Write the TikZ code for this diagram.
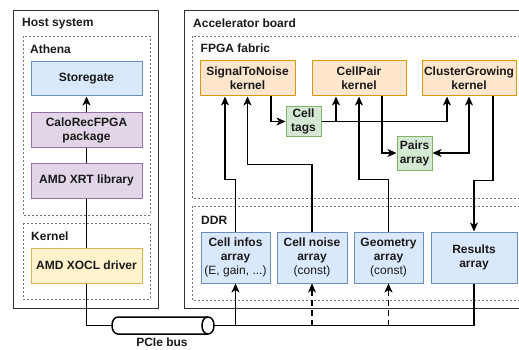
\documentclass[tikz,border=0pt]{standalone}
\usepackage{fontspec}
\setmainfont{Liberation Sans}
\usetikzlibrary{arrows.meta,calc}

\definecolor{blueF}{HTML}{DAE8FC}\definecolor{blueS}{HTML}{6C8EBF}
\definecolor{purpF}{HTML}{E1D5E7}\definecolor{purpS}{HTML}{9673A6}
\definecolor{yelF}{HTML}{FFF2CC}\definecolor{yelS}{HTML}{D6B656}
\definecolor{orF}{HTML}{FFE6CC}\definecolor{orS}{HTML}{D79B00}
\definecolor{grF}{HTML}{D5E8D4}\definecolor{grS}{HTML}{82B366}
\definecolor{ink}{HTML}{1A1A1A}

\tikzset{
  txt/.style={font=\fontsize{12}{14}\selectfont\bfseries, text=ink, align=center},
  box/.style={txt, draw, line width=1pt, inner sep=0pt},
  bluebox/.style={box, fill=blueF, draw=blueS},
  purpbox/.style={box, fill=purpF, draw=purpS},
  yelbox/.style={box, fill=yelF, draw=yelS},
  kernbox/.style={box, fill=orF, draw=orS, minimum width=94pt, minimum height=35pt},
  tagbox/.style={box, fill=grF, draw=grS, minimum width=35pt},
  ddrbox/.style={bluebox, minimum height=51pt},
  outer/.style={draw=black!80, line width=0.9pt},
  zone/.style={draw=black!55, line width=0.9pt, dash pattern=on 2pt off 2pt},
  grouplabel/.style={txt, anchor=west, inner sep=0pt},
  wire/.style={draw=black, line width=1.5pt},
  tip/.style={Stealth[length=9pt,width=8pt,inset=2.5pt]},
  arr/.style={wire, -{Stealth[length=9pt,width=8pt,inset=2.5pt]}},
  biarr/.style={wire, {Stealth[length=9pt,width=8pt,inset=2.5pt]}-{Stealth[length=9pt,width=8pt,inset=2.5pt]}},
  dasharr/.style={arr, dash pattern=on 6pt off 4pt},
}

\begin{document}
\begin{tikzpicture}[x=1pt,y=-1pt]
\useasboundingbox (0,0) rectangle (519,350);
\clip (0,0) rectangle (519,350);

% Host side frames
\draw[outer] (13,10) rectangle (158,308);
\node[grouplabel] at (22,23.5) {Host system};
\draw[zone] (23,36) rectangle (150,215);
\node[grouplabel] at (30,49) {Athena};
\draw[zone] (23,223) rectangle (150,299);
\node[grouplabel] at (31,236) {Kernel};

% Accelerator side frames
\draw[outer] (184,10) rectangle (530,308);
\node[grouplabel] at (193,23.5) {Accelerator board};
\draw[zone] (192,36) rectangle (526,198);
\node[grouplabel] at (200.5,48) {FPGA fabric};
\draw[zone] (192,206) rectangle (526,300);
\node[grouplabel] at (201,220) {DDR};

% Host software stack
\node[bluebox, minimum width=111pt, minimum height=34pt] (storegate) at (86.5,79) {Storegate};
\node[purpbox, minimum width=111pt, minimum height=34pt] (calorec) at (86.5,130) {CaloRecFPGA\\package};
\node[purpbox, minimum width=111pt, minimum height=35pt] (xrt) at (86.5,180.5) {AMD XRT library};
\node[yelbox, minimum width=111pt, minimum height=35pt] (xocl) at (86.5,265.5) {AMD XOCL driver};

% FPGA kernels and on-chip buffers
\node[kernbox, minimum width=95pt] (stn) at (247.5,78.5) {SignalToNoise\\kernel};
\node[kernbox] (cellpair) at (359,78.5) {CellPair\\kernel};
\node[kernbox] (cluster) at (469,78.5) {ClusterGrowing\\kernel};
\node[tagbox, minimum height=29pt] (celltags) at (303.5,121.5) {Cell\\tags};
\node[tagbox, minimum height=34pt] (pairs) at (414.5,153) {Pairs\\array};

% DDR arrays
\node[ddrbox, minimum width=69pt] (cellinfos) at (235.5,257.5) {Cell infos\\array\\{\mdseries(E, gain, ...)}};
\node[ddrbox, minimum width=70pt] (cellnoise) at (312,257.5) {Cell noise\\array\\{\mdseries(const)}};
\node[ddrbox, minimum width=69pt] (geometry) at (388.5,257.5) {Geometry\\array\\{\mdseries(const)}};
\node[ddrbox, minimum width=86pt] (results) at (474,257.5) {Results\\array};

% PCIe bus: a horizontal cylinder, open end on the right
\node[minimum width=102pt, minimum height=17pt, inner sep=0pt] (pcie) at (163,325.5) {};
\draw[line width=1.5pt, fill=white]
  (118,317) -- (208,317) .. controls (216,317) and (216,334) .. (208,334)
  -- (118,334) .. controls (110,334) and (110,317) .. (118,317) -- cycle;
\draw[line width=1.5pt] (208,317) .. controls (200,317) and (200,334) .. (208,334);
\node[txt] (pcielabel) at (162,342.5) {PCIe bus};

% Host connectors
\draw[arr] (calorec) -- (storegate);
\draw[wire] (xrt) -- (calorec);
\draw[wire] (xocl) -- (xrt);
\draw[wire] (xocl.south) |- (pcie.west);

% Bus to device memory
\coordinate (busend) at (results.south |- pcie.east);
\draw[wire] (pcie.east) -- (busend) -- (results.south);
\draw[arr] (cellinfos.south |- pcie.east) -- (cellinfos.south);
\draw[dasharr] (cellnoise.south |- pcie.east) -- (cellnoise.south);
\draw[dasharr] (geometry.south |- pcie.east) -- (geometry.south);

% DDR inputs to kernels
\draw[arr] (cellinfos.north) -- ++(0,-52) -| ([xshift=-22.5pt]stn.south);
\draw[arr] (cellnoise.north) -- ++(0,-67) -| (stn.south);
\draw[arr] (geometry.north) -- ++(0,-52) -| (cellpair.south);

% Data flow between kernels
\draw[arr] ([xshift=23.5pt]stn.south) |- (celltags.west);
\draw[arr] (celltags.east) -| ([xshift=-23pt]cellpair.south);
\draw[arr] (celltags.east) -| ([xshift=-22pt]cluster.south);
\draw[arr] ([xshift=23pt]cellpair.south) |- (pairs.west);
\draw[biarr] (cluster.south) |- (pairs.east);
\draw[arr] ([xshift=24pt]cluster.south) -- ++(0,84) -| (results.north);
\end{tikzpicture}
\end{document}
